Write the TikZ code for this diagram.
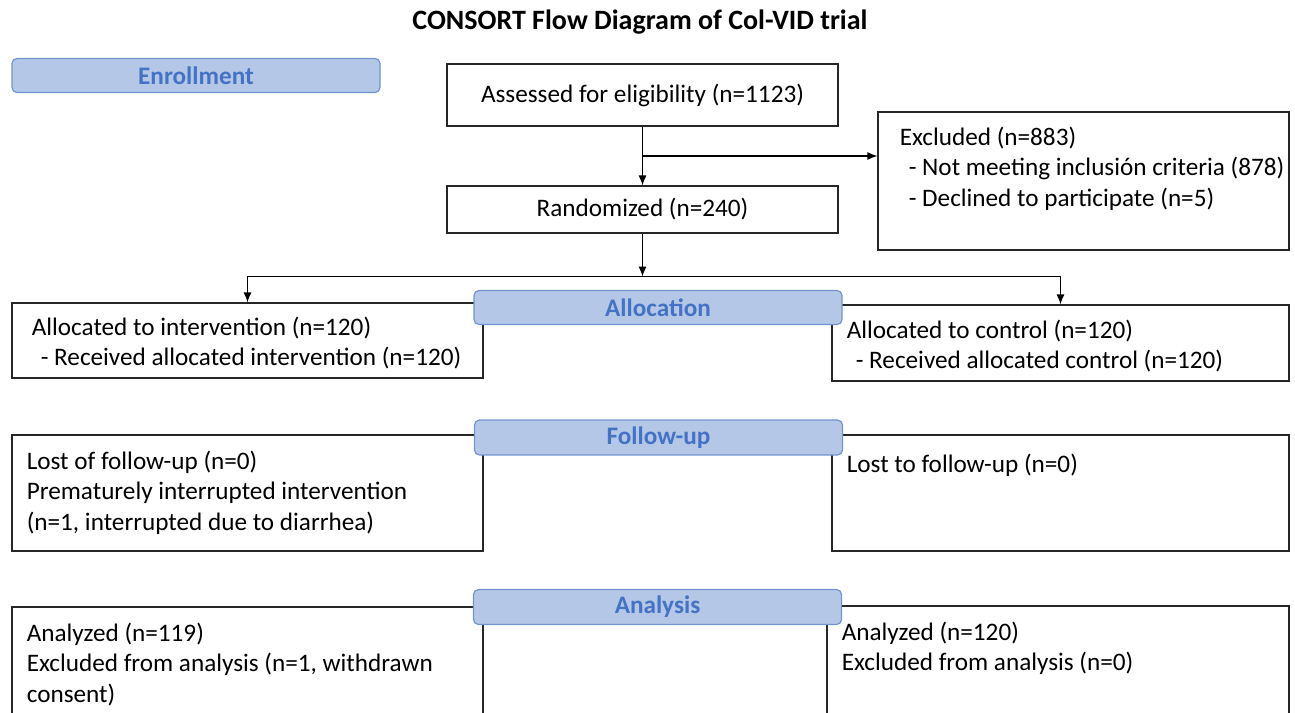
\documentclass[tikz,border=0pt]{standalone}
\usepackage{fontspec}
\setmainfont{Carlito}
\usetikzlibrary{positioning,arrows.meta,calc}
\definecolor{stagefill}{HTML}{B4C7E7}
\definecolor{stagedraw}{HTML}{7193CF}
\definecolor{stagetext}{HTML}{4472C4}

\begin{document}
\begin{tikzpicture}[
	x=0.5pt, y=-0.5pt,
	box/.style={
		rectangle,
		draw=black!85,
		line width=0.6pt,
		font=\fontsize{12.6}{15}\selectfont
	},
	stage/.style={
		rectangle,
		draw=stagedraw,
		line width=0.6pt,
		rounded corners=2.5pt,
		fill=stagefill,
		text=stagetext,
		font=\fontsize{12.6}{15}\selectfont\bfseries,
		minimum width=184pt,
		minimum height=17pt
	},
	txt/.style={
		align=left,
		inner sep=0pt,
		font=\fontsize{12.6}{15.3}\selectfont
	},
	arr/.style={
		line width=0.6pt,
		-{Latex[length=5pt,width=4pt]}
	}
]

\useasboundingbox (0,0) rectangle (1295,712);
\clip (0,0) rectangle (1295,712);

\node[font=\fontsize{14}{16}\selectfont\bfseries] (title) at (640, 22) {CONSORT Flow Diagram of Col-VID trial};

\node[box, minimum width=195.5pt, minimum height=31pt] (assess) at (642.5, 95) {Assessed for eligibility (n=1123)};
\node[box, minimum width=195.5pt, minimum height=23.5pt] (rand) at (642.5, 209.5) {Randomized (n=240)};

\node[box, minimum width=205.5pt, minimum height=69pt] (excl) at (1083.5, 181) {};
\node[txt, below right=7.5pt and 11pt of excl.north west] (excl_txt) {Excluded (n=883)\\
	\hspace*{4.5pt}- Not meeting inclusión criteria (878)\\
	\hspace*{4.5pt}- Declined to participate (n=5)};

\node[box, minimum width=235.5pt, minimum height=37.5pt] (alloc_int) at (247.5, 340.5) {};
\node[box, minimum width=228.5pt, minimum height=38pt] (alloc_ctrl) at (1060.5, 343) {};
\node[txt, below right=7pt and 10pt of alloc_int.north west] (alloc_int_txt) {Allocated to intervention (n=120)\\
	\hspace*{4.5pt}- Received allocated intervention (n=120)};
\node[txt, below right=7.5pt and 7.5pt of alloc_ctrl.north west] (alloc_ctrl_txt) {Allocated to control (n=120)\\
	\hspace*{4.5pt}- Received allocated control (n=120)};

\node[box, minimum width=235.5pt, minimum height=58pt] (fu_int) at (247.5, 493) {};
\node[box, minimum width=228.5pt, minimum height=58pt] (fu_ctrl) at (1060.5, 493) {};
\node[txt, below right=8pt and 7.5pt of fu_int.north west] (fu_int_txt) {Lost of follow-up (n=0)\\
	Prematurely interrupted intervention\\
	(n=1, interrupted due to diarrhea)};
\node[txt, below right=9.5pt and 7.5pt of fu_ctrl.north west] (fu_ctrl_txt) {Lost to follow-up (n=0)};

\node[box, minimum width=235.5pt, minimum height=76.5pt] (an_int) at (247.5, 683.5) {};
\node[box, minimum width=231pt, minimum height=77pt] (an_ctrl) at (1058, 683) {};
\node[txt, below right=8pt and 7.5pt of an_int.north west] (an_int_txt) {Analyzed (n=119)\\
	Excluded from analysis (n=1, withdrawn\\
	consent)};
\node[txt, below right=8pt and 7.5pt of an_ctrl.north west] (an_ctrl_txt) {Analyzed (n=120)\\
	Excluded from analysis (n=0)};

% stage labels on top of the boxes
\node[stage] (enroll) at (196, 75.5) {Enrollment};
\node[stage] (lab_alloc) at (658, 307.5) {Allocation};
\node[stage] (lab_fu) at (658.5, 437.5) {Follow-up};
\node[stage] (lab_an) at (657.5, 607) {Analysis};

\coordinate (split) at ($(assess.south)!0.5!(rand.north)$);
\coordinate (fork) at ($(rand.south)+(0,43)$);

\draw[arr] (assess) -- (rand);
\draw[arr] (split) -- (split -| excl.west);
\draw[arr] (rand) -- (fork);
\draw[arr] (fork) -| (alloc_int);
\draw[arr] (fork) -| (alloc_ctrl);

\end{tikzpicture}
\end{document}
